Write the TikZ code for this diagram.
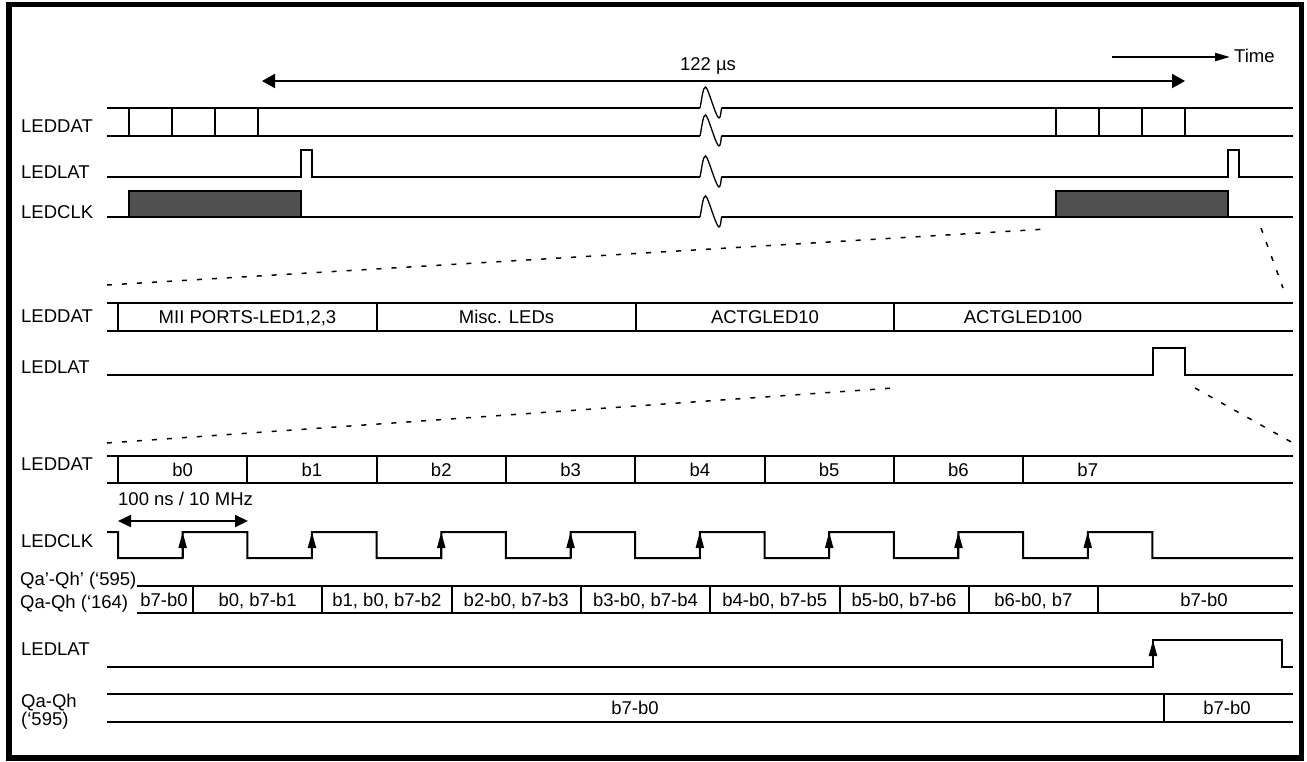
\documentclass[tikz,border=0pt]{standalone}
\usepackage{fontspec}
\setmainfont{Liberation Sans}
\definecolor{clkfill}{HTML}{505050}
\usetikzlibrary{arrows.meta,positioning}

% break mark on a line at y = #1
\newcommand{\gapmark}[1]{%
  \draw[thin] (700,#1) .. controls (702,#1-10) and (703,#1-21) .. (705.5,#1-21)
    .. controls (708,#1-21) and (716,#1+10) .. (719,#1+10)
    .. controls (720.5,#1+10) and (721,#1+4) .. (721.5,#1) -- (722,#1);}

\begin{document}
\begin{tikzpicture}[
  x=1pt, y=-1pt,
  font=\fontsize{18.5}{22}\selectfont,
  sig/.style={line width=2pt},
  thin/.style={line width=1.3pt},
  lbl/.style={anchor=base west, inner sep=0pt},
  val/.style={anchor=base, inner sep=0pt},
  zoomln/.style={line width=1.5pt, dash pattern=on 5pt off 10pt},
  span/.style={line width=2pt, {Triangle[length=13pt,width=14pt]}-{Triangle[length=13pt,width=14pt]}},
  per/.style={line width=2pt, {Triangle[length=13pt,width=12pt]}-{Triangle[length=13pt,width=12pt]}},
  fwd/.style={line width=2pt, -{Triangle[length=15pt,width=8pt]}},
  edge/.style={line width=2pt, -{Triangle[length=16pt,width=8pt]}},
]
  \useasboundingbox (0,0) rectangle (1307,761);
  \draw[line width=5.5pt] (9,4.5) rectangle (1301.5,758);

  % ---- overview: 122 us frame ----
  \coordinate (spanL) at (262,81);
  \coordinate (spanR) at (1185,81);
  \draw[span] (spanL) -- (spanR);
  \node[val] (spanlab) at (708,70) {122 µs};
  \coordinate (timeA) at (1112,57);
  \coordinate (timeB) at (1230,57);
  \draw[fwd] (timeA) -- (timeB);
  \node[lbl] (time) at (1234,62) {Time};

  \node[lbl] (datA) at (21,132) {LEDDAT};
  \node[lbl] (latA) at (21,178) {LEDLAT};
  \node[lbl] (clkA) at (21,218) {LEDCLK};

  \foreach \y in {108,136} {
    \draw[sig] (107,\y) -- (700,\y);
    \gapmark{\y}
    \draw[sig] (722,\y) -- (1293,\y);
  }
  \foreach \x in {129,172,215,258,1056,1099,1142,1185}
    \draw[sig] (\x,108) -- (\x,136);

  \draw[sig] (107,177) -- (301,177) -- (301,150) -- (312,150) -- (312,177) -- (700,177);
  \gapmark{177}
  \draw[sig] (722,177) -- (1228,177) -- (1228,150) -- (1239,150) -- (1239,177) -- (1293,177);

  \draw[sig] (107,217) -- (700,217);
  \gapmark{217}
  \draw[sig] (722,217) -- (1293,217);
  \filldraw[sig, fill=clkfill] (129,217) rectangle (301,191);
  \filldraw[sig, fill=clkfill] (1056,217) rectangle (1228,191);

  % ---- zoom lines ----
  \draw[zoomln] (107,285) -- (1047,229);
  \draw[zoomln] (1261,228) -- (1283,288);

  % ---- one frame: four groups ----
  \node[lbl] (datB) at (21,322) {LEDDAT};
  \node[lbl] (latB) at (21,373) {LEDLAT};

  \draw[sig] (107,303) -- (1293,303);
  \draw[sig] (107,331) -- (1293,331);
  \foreach \x in {118,377,636,894}
    \draw[sig] (\x,303) -- (\x,331);
  \node[val] (grp1) at (247.5,323.5) {MII PORTS-LED1,2,3};
  \node[val] (grp2) at (506.5,323.5) {Misc. LEDs};
  \node[val] (grp3) at (765,323.5) {ACTGLED10};
  \node[val] (grp4) at (1023,323.5) {ACTGLED100};

  \draw[sig] (107,375) -- (1153,375) -- (1153,348) -- (1185,348) -- (1185,375) -- (1293,375);

  % ---- zoom lines ----
  \draw[zoomln] (107,443) -- (893,388);
  \draw[zoomln] (1195,388) -- (1293,443);

  % ---- one group: eight bits ----
  \node[lbl] (datC) at (21,470) {LEDDAT};
  \node[lbl] (clkC) at (21,547) {LEDCLK};
  \node[lbl] (qsA) at (20,585) {Qa’-Qh’ (‘595)};
  \node[lbl] (qsB) at (20,608) {Qa-Qh (‘164)};
  \node[lbl] (latC) at (21,655) {LEDLAT};
  \node[lbl] (qoA) at (21,707) {Qa-Qh};
  \node[lbl] (qoB) at (21,725) {(‘595)};

  \draw[sig] (107,456) -- (1293,456);
  \draw[sig] (107,483) -- (1293,483);
  \foreach \t [count=\i from 0] in {b0,b1,b2,b3,b4,b5,b6,b7} {
    \draw[sig] (118+129.3*\i,456) -- (118+129.3*\i,483);
    \node[val] (bit\i) at (182.65+129.3*\i,476.5) {\t};
  }

  \coordinate (perL) at (118,521);
  \coordinate (perR) at (248,521);
  \draw[per] (perL) -- (perR);
  \node[lbl] (perlab) at (118,505) {100 ns / 10 MHz};

  \draw[sig] (107,532) -- (118,532)
    \foreach \i in {0,...,7} {
      -- (118+129.3*\i,558) -- (182.65+129.3*\i,558)
      -- (182.65+129.3*\i,532) -- (247.3+129.3*\i,532)
    } -- (1152.4,558) -- (1293,558);
  \foreach \i in {0,...,7}
    \draw[edge] (182.65+129.3*\i,558) -- (182.65+129.3*\i,532);

  \draw[sig] (137,586) -- (1293,586);
  \draw[sig] (137,613) -- (1293,613);
  \foreach \i in {0,...,7}
    \draw[sig] (193+129.3*\i,586) -- (193+129.3*\i,613);
  \node[val] (sh) at (164,606) {b7-b0};
  \foreach \t [count=\i from 0] in {{b0, b7-b1},{b1, b0, b7-b2},{b2-b0, b7-b3},
      {b3-b0, b7-b4},{b4-b0, b7-b5},{b5-b0, b7-b6},{b6-b0, b7}}
    \node[val] (sh\i) at (257.6+129.3*\i,606) {\t};
  \node[val] (shEnd) at (1204,606) {b7-b0};

  \draw[sig] (107,667) -- (1153,667) -- (1153,640) -- (1282,640) -- (1282,667) -- (1293,667);
  \draw[edge] (1153,667) -- (1153,640);

  \draw[sig] (107,694) -- (1293,694);
  \draw[sig] (107,722) -- (1293,722);
  \draw[sig] (1164,694) -- (1164,722);
  \node[val] (outA) at (635,714.5) {b7-b0};
  \node[val] (outB) at (1227,714.5) {b7-b0};
\end{tikzpicture}
\end{document}
